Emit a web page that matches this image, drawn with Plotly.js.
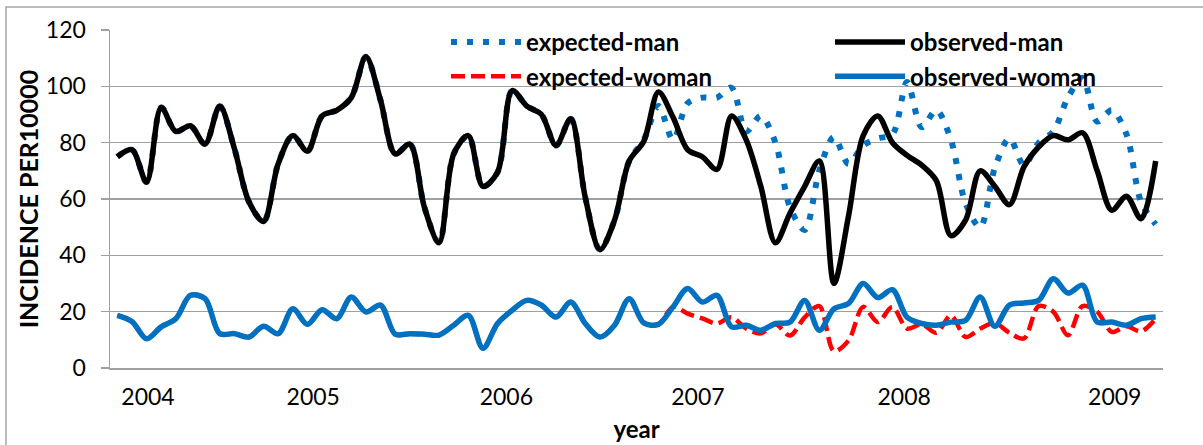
<!DOCTYPE html>
<html>
<head>
<meta charset="utf-8">
<script src="https://cdn.plot.ly/plotly-3.0.1.min.js"></script>
<style>html,body{margin:0;padding:0;background:#fff;}#chart{width:1203px;height:445px;}</style>
</head>
<body>
<div id="chart"></div>
<script>
// 72 monthly observations (index 0 .. 71)
var monthIndex = [];
for (var k = 0; k < 72; k++) monthIndex.push(k);

var yearLabels = ['2004', '2005', '2006', '2007', '2008', '2009'];
var yearLabelAt = [2.1, 13.4, 26.6, 39.7, 53.8, 68.2];

var observedMan = [75, 77.5, 66, 92.5, 84, 86, 79.5, 93, 78, 59, 52, 72.5,
  82.5, 77, 89.5, 91.5, 96, 110.5, 95, 76, 79.5, 57, 44.5, 76,
  82.5, 64.5, 69.5, 98.5, 93, 90, 79, 88.5, 60.5, 42, 52.5, 73.5,
  80.5, 98, 89, 77.5, 75, 70.5, 89.5, 81, 64.5, 44.5, 55, 64.5,
  73.5, 30, 54, 82.5, 89.5, 80, 75.5, 72, 66.5, 47, 52.5, 70,
  64.5, 58, 71.5, 78.5, 82.5, 81, 83.5, 70, 56, 61, 53, 73.5];

var expectedMan = [75, 77.5, 66, 92.5, 84, 86, 79.5, 93, 78, 59, 52, 72.5,
  82.5, 77, 89.5, 91.5, 96, 110.5, 95, 76, 79.5, 57, 44.5, 76,
  82.5, 64.5, 69.5, 98.5, 93, 90, 79, 88.5, 60.5, 42, 52.5, 73.5,
  81, 93, 81, 94, 96, 96, 99.5, 84, 89.5, 80, 57, 49,
  70, 82, 72.5, 79, 81.5, 83, 101.5, 85.5, 91.5, 81, 58.5, 50,
  71, 81.5, 72, 80, 84, 96, 103, 87.5, 91.5, 83, 59, 51];

var observedWoman = [18.7, 16.5, 10.4, 14.6, 17.5, 25.8, 24.6, 12.2, 12.2, 11, 14.8, 12.2,
  21, 15.5, 20.7, 17.5, 25.2, 19.9, 22.3, 12, 12.2, 12, 11.7, 15.2,
  18.7, 7, 15.8, 20.5, 24, 22.3, 18.1, 23.4, 15.8, 11, 15.2, 24.6,
  16, 15.5, 21.7, 28.2, 23.4, 25.8, 14.6, 15.2, 13.4, 15.8, 16.3, 24,
  13.4, 21, 22.9, 30, 25, 27.8, 18, 15.8, 15.2, 16.3, 16.9, 25.2,
  14.8, 22.3, 23.1, 24, 31.7, 26.6, 29.4, 16.3, 16.3, 15.2, 17.5, 18.1];

var expectedWoman = [18.7, 16.5, 10.4, 14.6, 17.5, 25.8, 24.6, 12.2, 12.2, 11, 14.8, 12.2,
  21, 15.5, 20.7, 17.5, 25.2, 19.9, 22.3, 12, 12.2, 12, 11.7, 15.2,
  18.7, 7, 15.8, 20.5, 24, 22.3, 18.1, 23.4, 15.8, 11, 15.2, 24.6,
  16, 15.5, 21.7, 19.3, 17.6, 15.8, 18, 14, 12.3, 15.5, 11.5, 18,
  22, 6, 9.8, 21.7, 16.3, 21.7, 14, 15.5, 12.5, 18.7, 11, 14,
  16, 12.5, 10.5, 22, 20, 11.6, 22, 20, 12.8, 14.8, 13, 17.5];

var FONT = 'Lato, "Open Sans", sans-serif';

var traces = [
  {x: monthIndex, y: expectedMan, name: 'expected-man', type: 'scatter', mode: 'lines',
   line: {color: '#0070C0', width: 6, dash: '6px,10px', shape: 'spline', smoothing: 0.9},
   legend: 'legend', legendgroup: 'em'},
  {x: monthIndex, y: observedMan, name: 'observed-man', type: 'scatter', mode: 'lines',
   line: {color: '#000000', width: 5.5, shape: 'spline', smoothing: 0.9},
   legend: 'legend2', legendgroup: 'om'},
  {x: monthIndex, y: expectedWoman, name: 'expected-woman', type: 'scatter', mode: 'lines',
   line: {color: '#FF0000', width: 4.5, dash: '14px,6px', shape: 'spline', smoothing: 0.9},
   legend: 'legend', legendgroup: 'ew'},
  {x: monthIndex, y: observedWoman, name: 'observed-woman', type: 'scatter', mode: 'lines',
   line: {color: '#0070C0', width: 5.5, shape: 'spline', smoothing: 0.9},
   legend: 'legend2', legendgroup: 'ow'}
];

var W = 1053, H = 338, L = 110, T = 30;
function px(v) { return (v - L) / W; }
function py(v) { return (T + H - v) / H; }

var legendCommon = {
  orientation: 'v', xanchor: 'left', yanchor: 'top', bgcolor: 'rgba(0,0,0,0)',
  font: {family: FONT, size: 24, color: '#000', weight: 700},
  itemwidth: 70, tracegroupgap: 0, traceorder: 'grouped'
};

var layout = {
  width: 1203, height: 445,
  margin: {l: 110, r: 40, t: 30, b: 77},
  paper_bgcolor: '#ffffff', plot_bgcolor: '#ffffff',
  font: {family: FONT, size: 23, color: '#000'},
  showlegend: true,
  legend: Object.assign({}, legendCommon, {x: px(446), y: py(20)}),
  legend2: Object.assign({}, legendCommon, {x: px(830), y: py(20)}),
  xaxis: {
    range: [-0.5, 71.5], showgrid: false, zeroline: false,
    showline: true, linecolor: '#A0A0A0', linewidth: 1.5,
    tickmode: 'array', tickvals: yearLabelAt, ticktext: yearLabels,
    ticks: '', ticklabelstandoff: 8,
    tickfont: {family: FONT, size: 23, color: '#000'},
    title: {text: 'year', font: {family: FONT, size: 24, color: '#000', weight: 700}, standoff: 12}
  },
  yaxis: {
    range: [0, 120], dtick: 20, tick0: 0,
    showgrid: true, gridcolor: '#A0A0A0', gridwidth: 1.5, zeroline: false,
    showline: true, linecolor: '#A0A0A0', linewidth: 1.5,
    ticks: 'outside', ticklen: 8, tickcolor: '#A0A0A0', tickwidth: 1.5,
    ticklabelstandoff: 10,
    tickfont: {family: FONT, size: 23, color: '#000'},
    title: {text: 'INCIDENCE PER10000', font: {family: FONT, size: 25, color: '#000', weight: 700}, standoff: 0}
  },
  shapes: [
    {type: 'rect', xref: 'paper', yref: 'paper', x0: px(6), x1: px(1215), y0: py(7), y1: py(460),
     line: {color: '#A6A6A6', width: 1.5}, fillcolor: 'rgba(0,0,0,0)', layer: 'below'}
  ]
};

Plotly.newPlot('chart', traces, layout, {displayModeBar: false, staticPlot: true});
</script>
</body>
</html>
